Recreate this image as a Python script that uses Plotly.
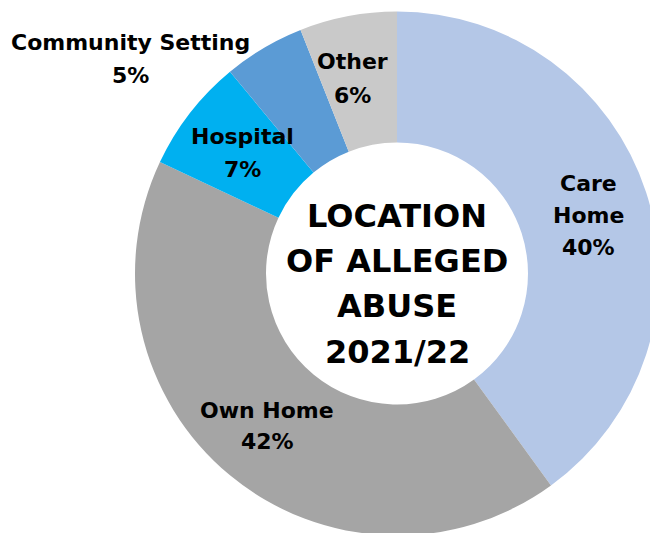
import plotly.graph_objects as go

categories = ["Care Home", "Own Home", "Hospital", "Community Setting", "Other"]
percentages = [40, 42, 7, 5, 6]
colors = ["#B4C7E7", "#A5A5A5", "#00B0F0", "#5B9BD5", "#C9C9C9"]
title_lines = ["LOCATION", "OF ALLEGED", "ABUSE", "2021/22"]

W, H = 794, 547
FONT = "DejaVu Sans"

fig = go.Figure(go.Pie(
    labels=categories,
    values=percentages,
    marker=dict(colors=colors, line=dict(width=0)),
    hole=0.5,
    sort=False,
    direction="clockwise",
    rotation=0,
    textinfo="none",
    hoverinfo="label+percent",
    domain=dict(x=[0, 1], y=[11.5 / H, 535.5 / H]),
    showlegend=False,
))

def px(x, y):
    return x / W, 1 - y / H

annotations = []
label_lines = {
    "Care Home": [("Care", 588, 184), ("Home", 588, 215), ("{p}%", 588, 247)],
    "Own Home": [("Own Home", 267, 410), ("{p}%", 267, 441)],
    "Hospital": [("Hospital", 243, 137), ("{p}%", 243, 170)],
    "Community Setting": [("Community Setting", 130, 42), ("{p}%", 130, 75)],
    "Other": [("Other", 352, 62), ("{p}%", 352, 95)],
}
for cat, pct in zip(categories, percentages):
    for txt, x, y in label_lines[cat]:
        ax, ay = px(x, y)
        annotations.append(dict(
            x=ax, y=ay, xref="paper", yref="paper", showarrow=False,
            text="<b>" + txt.format(p=pct) + "</b>",
            font=dict(family=FONT, size=22, color="#000000"),
            xanchor="center", yanchor="middle",
        ))

for line, y in zip(title_lines, [216, 261, 306, 352]):
    ax, ay = px(397, y)
    annotations.append(dict(
        x=ax, y=ay, xref="paper", yref="paper", showarrow=False,
        text="<b>" + line + "</b>",
        font=dict(family=FONT, size=32, color="#000000"),
        xanchor="center", yanchor="middle",
    ))

fig.update_layout(
    width=W, height=H,
    margin=dict(l=0, r=0, t=0, b=0),
    paper_bgcolor="white", plot_bgcolor="white",
    annotations=annotations,
)

fig.write_html("out.html", post_script="document.body.style.margin='0';document.body.style.overflow='hidden';document.documentElement.style.overflow='hidden';")
